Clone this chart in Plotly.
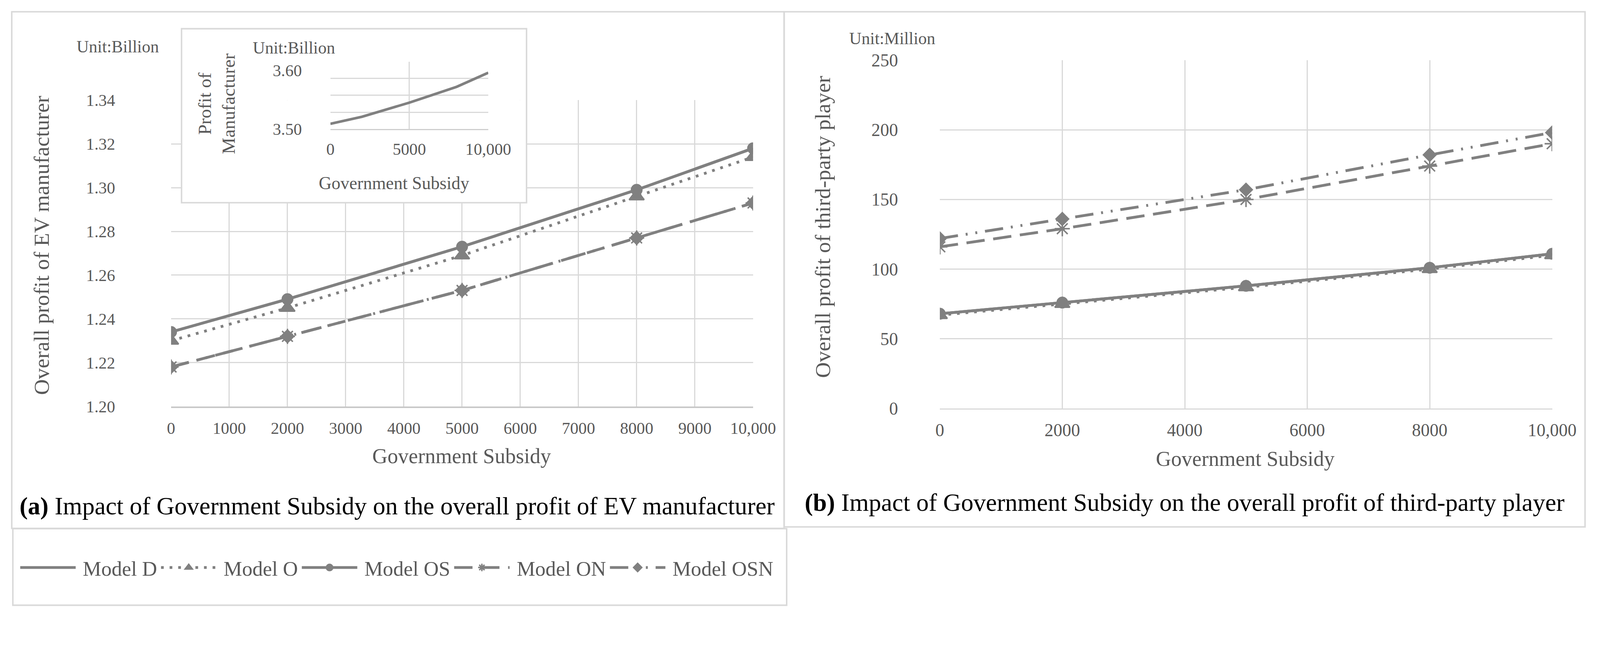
import plotly.graph_objects as go

SERIF = 'Liberation Serif'
GREY = '#808080'
TXT = '#595959'
GRID = '#d9d9d9'

# data
subsidy = [0, 2000, 5000, 8000, 10000]
models = ['Model D', 'Model O', 'Model OS', 'Model ON', 'Model OSN']

# (a) overall profit of EV manufacturer (billion)
ev_d = [1.234, 1.249, 1.273, 1.299, 1.318]
ev_o = [1.230, 1.245, 1.269, 1.296, 1.314]
ev_os = [1.234, 1.249, 1.273, 1.299, 1.318]
ev_on = [1.218, 1.232, 1.253, 1.277, 1.293]
ev_osn = [1.218, 1.232, 1.253, 1.277, 1.293]

# inset: profit of manufacturer (billion)
inset_profit = [3.509, 3.521, 3.545, 3.572, 3.596]

# (b) overall profit of third-party player (million)
tp_d = [68, 76, 88, 101, 111]
tp_o = [67, 75, 87, 100, 110]
tp_os = [68, 76, 88, 101, 111]
tp_on = [116, 129, 150, 174, 190]
tp_osn = [122, 136, 157, 182, 198]

left_ticks = list(range(0, 10001, 1000))
left_ticktext = [str(v) for v in left_ticks[:-1]] + ['10,000']
right_ticks = list(range(0, 10001, 2000))
right_ticktext = [str(v) for v in right_ticks[:-1]] + ['10,000']

# the photographed page is a bit magnified and offset compared with css px,
# so positions below are given in photo pixels and mapped back
SX, SY = 1.062, 1.048
OX, OY = 22.6, 34.5
FW, FH = 4149, 1591
SF = (SX + SY) / 2


def fx(x):
    return (x / SX - OX) / FW


def fy(y):
    return 1 - (y / SY - OY) / FH


def sz(v):
    return v / SF


def isz(v):
    return int(round(v / SF))


# line / marker look per model
style = {
    'Model D': dict(dash='solid', symbol=None, size=0),
    'Model O': dict(dash='%dpx,%dpx' % (sz(8), sz(16)), symbol='triangle-up', size=35),
    'Model OS': dict(dash='solid', symbol='circle', size=28),
    'Model ON': dict(dash='%dpx,%dpx' % (sz(50), sz(24)), symbol='asterisk-open', size=34),
    'Model OSN': dict(dash=','.join('%dpx' % sz(v) for v in (50, 22, 6, 22, 6, 22)),
                      symbol='diamond', size=26),
}


def model_trace(name, yvals, xa, ya, legend):
    st = style[name]
    mode = 'lines' if st['symbol'] is None else 'lines+markers'
    marker = dict(color=GREY)
    if st['symbol'] is not None:
        marker.update(symbol=st['symbol'], size=sz(st['size']),
                      line=dict(color=GREY, width=sz(4)))
    return go.Scatter(x=subsidy, y=yvals, name='\u00a0' + name, mode=mode,
                      line=dict(color=GREY, width=sz(7.5), dash=st['dash']),
                      marker=marker, xaxis=xa, yaxis=ya,
                      legendgroup=name, showlegend=legend, hoverinfo='skip')


fig = go.Figure()

left_series = [ev_d, ev_o, ev_os, ev_on, ev_osn]
right_series = [tp_d, tp_o, tp_os, tp_on, tp_osn]

for name, ys in zip(models, left_series):
    fig.add_trace(model_trace(name, ys, 'x', 'y', True))

fig.add_trace(go.Scatter(x=subsidy, y=inset_profit, mode='lines',
                         line=dict(color=GREY, width=sz(7)), xaxis='x2', yaxis='y2',
                         showlegend=False, hoverinfo='skip'))

for name, ys in zip(models, right_series):
    fig.add_trace(model_trace(name, ys, 'x3', 'y3', False))

tickfont = dict(family=SERIF, size=sz(45), color=TXT)
tickfont_r = dict(family=SERIF, size=sz(48), color=TXT)
grid = dict(showgrid=True, gridcolor=GRID, gridwidth=sz(3), zeroline=False, ticks='')

fig.update_layout(
    width=FW, height=FH,
    margin=dict(l=0, r=0, t=0, b=0),
    paper_bgcolor='white', plot_bgcolor='white',
    hovermode=False,
    # main chart (a)
    xaxis=dict(domain=[fx(477), fx(2088)], range=[0, 10000], anchor='y',
               tickvals=left_ticks, ticktext=left_ticktext, tickfont=tickfont,
               showline=True, linecolor='#c8c8c8', linewidth=sz(4),
               ticklabelstandoff=isz(16), **grid),
    yaxis=dict(domain=[fy(1126), fy(278)], range=[1.20, 1.34], anchor='x',
               dtick=0.02, tickformat='.2f', tickfont=tickfont,
               showline=False, ticklabelstandoff=isz(150), **grid),
    # inset
    xaxis2=dict(domain=[fx(918), fx(1355)], range=[0, 10000], anchor='y2',
                tickvals=[0, 5000, 10000], ticktext=['0', '5000', '10,000'],
                tickfont=tickfont, showline=True, linecolor='#cfcfcf',
                linewidth=sz(3), ticklabelstandoff=isz(13), **grid),
    yaxis2=dict(domain=[fy(358), fy(171)], range=[3.50, 3.615], anchor='x2',
                tickvals=[3.50, 3.60], ticktext=['3.50', '3.60'], tickfont=tickfont,
                showgrid=False, zeroline=False, showline=False, ticks='',
                ticklabelstandoff=isz(76),
                minor=dict(tick0=3.50, dtick=0.02875, showgrid=True,
                           gridcolor=GRID, gridwidth=sz(3), ticks='')),
    # chart (b)
    xaxis3=dict(domain=[fx(2605), fx(4300)], range=[0, 10000], anchor='y3',
                tickvals=right_ticks, ticktext=right_ticktext, tickfont=tickfont_r,
                showline=True, linecolor=GRID, linewidth=sz(3),
                ticklabelstandoff=isz(14), **grid),
    yaxis3=dict(domain=[fy(1132), fy(167)], range=[0, 250], anchor='x3',
                dtick=50, tickfont=tickfont_r, showline=False,
                ticklabelstandoff=isz(112), **grid),
    legend=dict(orientation='h', x=fx(54), y=fy(1573), xanchor='left',
                yanchor='middle', font=dict(family=SERIF, size=sz(56), color=TXT),
                itemwidth=isz(150), bgcolor='rgba(0,0,0,0)', traceorder='normal'),
)


def box(x0, y0, x1, y1, color=GRID, width=4, layer='below'):
    return dict(type='rect', xref='paper', yref='paper',
                x0=fx(x0), x1=fx(x1), y0=fy(y1), y1=fy(y0),
                line=dict(color=color, width=sz(width)), fillcolor='rgba(0,0,0,0)',
                layer=layer)


shapes = [
    box(36, 33, 2174, 1464),     # panel (a)
    box(2174, 33, 4391, 1460),   # panel (b)
    box(39, 1465, 2181, 1677),   # legend frame
    # white card of the inset, hides main gridlines underneath
    dict(type='rect', xref='x', yref='y', x0=180, x1=6108, y0=1.293, y1=1.40,
         line=dict(width=0), fillcolor='white', layer='between'),
    box(506, 80, 1461, 562, layer='above'),  # inset frame
]
fig.update_layout(shapes=shapes)


def note(text, x, y, size, color=TXT, angle=0):
    return dict(text=text, x=fx(x), y=fy(y), xref='paper', yref='paper',
                showarrow=False, xanchor='center', yanchor='middle',
                textangle=angle, font=dict(family=SERIF, size=sz(size), color=color))


annotations = [
    note('Unit:Billion', 330, 129, 46),
    note('Unit:Billion', 817, 132, 46),
    note('Unit:Million', 2474, 106, 46),
    note('Overall profit of EV manufacturer', 118, 680, 59, angle=-90),
    note('Government Subsidy', 1282, 1264, 57),
    note('Profit of<br>Manufacturer', 603, 287, 50, angle=-90),
    note('Government Subsidy', 1094, 508, 48),
    note('Overall profit of third-party player', 2280, 629, 59, angle=-90),
    note('Government Subsidy', 3451, 1272, 57),
    note('<b>(a)</b> Impact of Government Subsidy on the overall profit of EV manufacturer',
         1103, 1402, 67, color='black'),
    note('<b>(b)</b> Impact of Government Subsidy on the overall profit of third-party player',
         3282, 1392, 67, color='black'),
]
fig.update_layout(annotations=annotations)

fig.write_html("out.html")
